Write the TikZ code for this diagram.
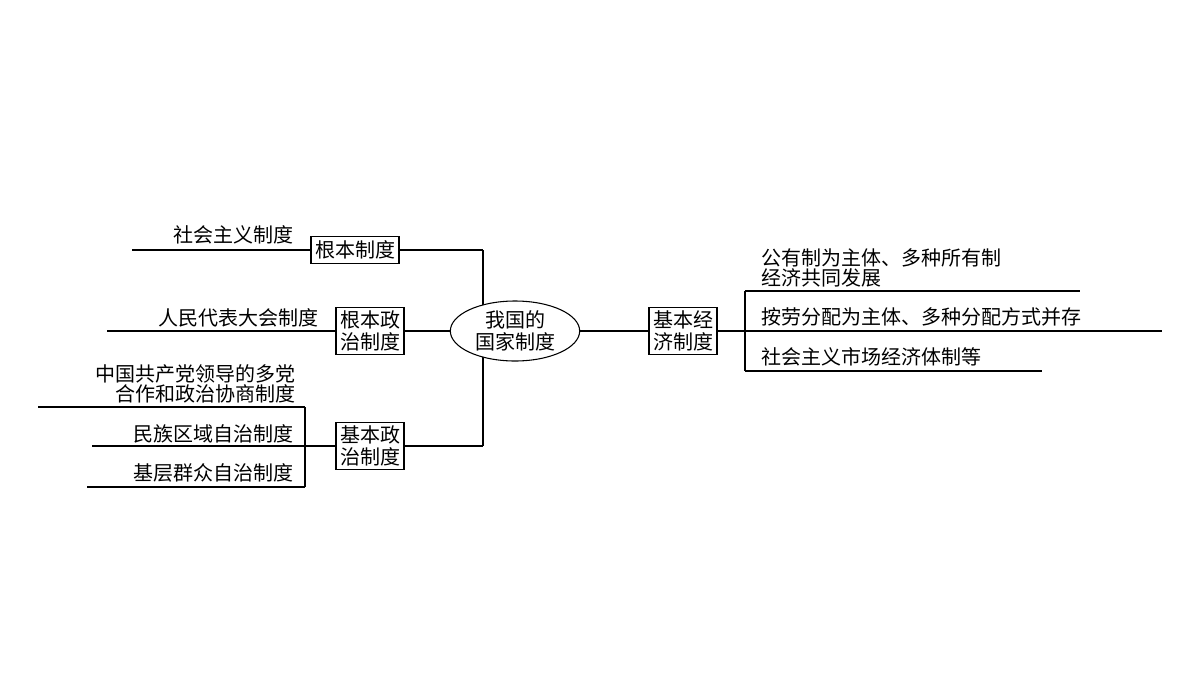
\documentclass[tikz,border=0pt]{standalone}
\usepackage{fontspec}
\setmainfont{Noto Sans CJK SC}
\usetikzlibrary{shapes.geometric}
\tikzset{
	box/.style = {draw, fill = white, align = center, inner sep = 3pt, line width = 0.8pt},
	lbl/.style = {inner sep = 1pt},
	every path/.style = {line width = 0.8pt}
}
\begin{document}
\begin{tikzpicture}[x = 0.75pt, y = -0.75pt, font = \fontsize{15}{18}\selectfont]%制度
	\useasboundingbox (0,0) rectangle (1200,675);
	\coordinate (J) at (483,250);
	\coordinate (K) at (483,446);
	\draw (J) -- (K);
	\node[ellipse, draw, fill = white, minimum width = 130\pgflinewidth, align = center, inner sep = 0pt, minimum height = 45pt, minimum width = 97pt](C) at (515,331) {我国的\\[-2pt]国家制度};
	\node[box](B1) at (355,250) {根本制度};
	\node[box](B2) at (370,331) {根本政\\[-2pt]治制度};
	\node[box](B3) at (370,446) {基本政\\[-2pt]治制度};
	\node[box](B4) at (683,331) {基本经\\[-2pt]济制度};
	\draw (B1.east) -- (J);
	\draw (B3.east) -- (K);
	\draw (B2.east) -- (C.west);
	\draw (C.east) -- (B4.west);
	% 左侧
	\coordinate (L1) at (132,250);
	\coordinate (L2) at (107,331);
	\draw (B1.west) -- (L1);
	\draw (B2.west) -- (L2);
	\node[lbl, anchor = south east] (T1) at (295,246) {社会主义制度};
	\node[lbl, anchor = south east] (T2) at (320,329) {人民代表大会制度};
	\coordinate (P) at (305,446);
	\coordinate (P1) at (305,407);
	\coordinate (P3) at (305,487);
	\coordinate (Q1) at (38,407);
	\coordinate (Q2) at (92,446);
	\coordinate (Q3) at (87,487);
	\draw (B3.west) -- (P) (P1) -- (P3);
	\draw (P1) -- (Q1) (P) -- (Q2) (P3) -- (Q3);
	\node[lbl, anchor = south east, align = right] (T3) at (297,405) {中国共产党领导的多党\\[-3pt]合作和政治协商制度};
	\node[lbl, anchor = south east] (T4) at (295,445) {民族区域自治制度};
	\node[lbl, anchor = south east] (T5) at (295,484) {基层群众自治制度};
	% 右侧
	\coordinate (R) at (745,331);
	\coordinate (R1) at (745,291);
	\coordinate (R3) at (745,371);
	\coordinate (S1) at (1080,291);
	\coordinate (S2) at (1162,331);
	\coordinate (S3) at (1042,371);
	\draw (B4.east) -- (R) (R1) -- (R3);
	\draw (R1) -- (S1) (R) -- (S2) (R3) -- (S3);
	\node[lbl, anchor = south west, align = left] (U1) at (760,289) {公有制为主体、多种所有制\\[-3pt]经济共同发展};
	\node[lbl, anchor = south west] (U2) at (760,328) {按劳分配为主体、多种分配方式并存};
	\node[lbl, anchor = south west] (U3) at (760,368) {社会主义市场经济体制等};
\end{tikzpicture}
\end{document}
